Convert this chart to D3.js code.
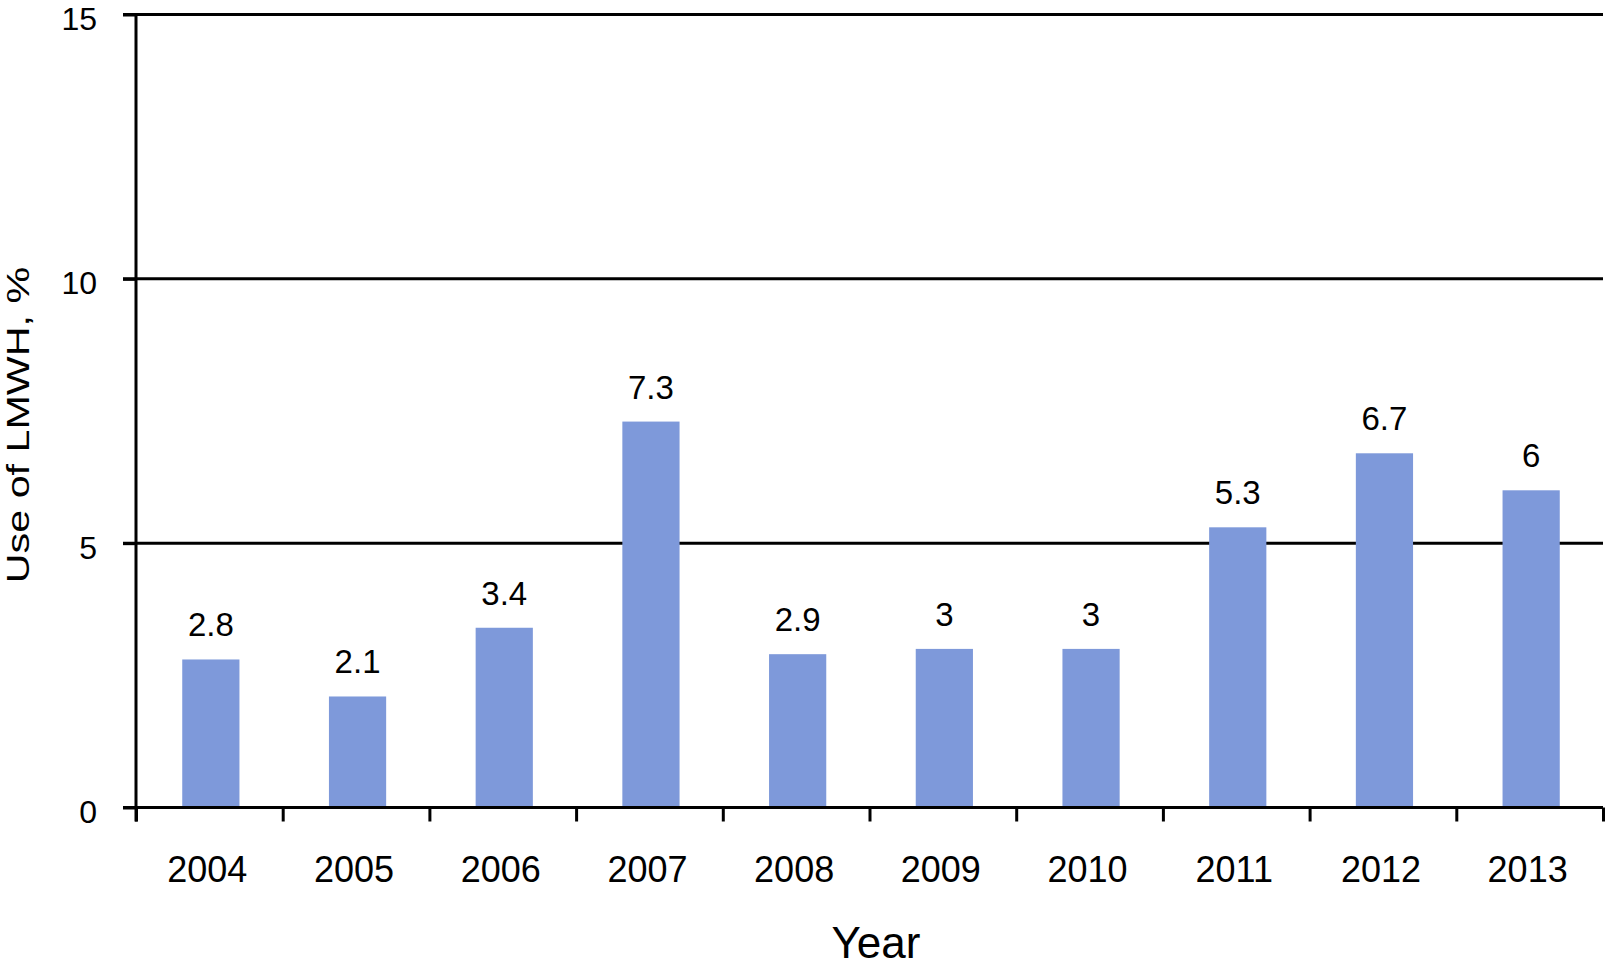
<!DOCTYPE html>
<html>
<head>
<meta charset="utf-8">
<script src="https://cdn.jsdelivr.net/npm/d3@7"></script>
<style>
  html, body { margin: 0; padding: 0; background: #fff; }
  svg text { font-family: "Liberation Sans", Arial, Helvetica, sans-serif; fill: #000; }
</style>
</head>
<body>
<svg id="chart" width="1605" height="978"></svg>
<script>
const years = ["2004","2005","2006","2007","2008","2009","2010","2011","2012","2013"];
const values = [2.8, 2.1, 3.4, 7.3, 2.9, 3, 3, 5.3, 6.7, 6];
const yTicks = [0, 5, 10, 15];
const xTitle = "Year";
const yTitle = "Use of LMWH, %";

(function () {
const svg = d3.select("#chart");
const pLeft = 136, pRight = 1603, pTop = 14.5, pBottom = 807.5;
const barColor = "#7e99da";

const x = d3.scaleBand().domain(years).range([pLeft, pRight]).paddingInner(0.61).paddingOuter(0.305);
const xb = d3.scaleLinear().domain([0, years.length]).range([pLeft, pRight]);
const y = d3.scaleLinear().domain([0, 15]).range([pBottom, pTop]);

// gridlines
svg.append("g").selectAll("line").data(yTicks.filter(d => d > 0)).join("line")
  .attr("x1", pLeft - 13).attr("x2", pRight)
  .attr("y1", d => y(d)).attr("y2", d => y(d))
  .attr("stroke", "#000").attr("stroke-width", 3);

// bars
svg.append("g").selectAll("rect").data(values).join("rect")
  .attr("x", (d, i) => x(years[i]) + 1.5)
  .attr("width", x.bandwidth())
  .attr("y", d => y(d))
  .attr("height", d => y(0) - y(d))
  .attr("fill", barColor);

// value labels
svg.append("g").selectAll("text").data(values).join("text")
  .attr("x", (d, i) => x(years[i]) + x.bandwidth() / 2 + 1.5)
  .attr("y", d => y(d) - 23)
  .attr("text-anchor", "middle")
  .attr("font-size", 33)
  .text(d => d);

// y axis
const yAxis = svg.append("g").attr("transform", `translate(${pLeft},0)`)
  .call(d3.axisLeft(y).tickValues(yTicks).tickSize(13).tickSizeOuter(0).tickPadding(26));
yAxis.attr("font-size", 32).attr("font-family", '"Liberation Sans", Arial, sans-serif');
yAxis.select(".domain").attr("stroke-width", 3).attr("d", `M0,${pTop}V${pBottom + 14}`);
yAxis.selectAll(".tick line").attr("stroke-width", 3);
yAxis.selectAll(".tick text").attr("font-size", 32).attr("dy", "0.47em");

// x axis boundary ticks
const xAxisB = svg.append("g").attr("transform", `translate(0,${pBottom})`)
  .call(d3.axisBottom(xb).tickValues(d3.range(0, years.length + 1)).tickSize(14).tickSizeOuter(0).tickFormat(""));
xAxisB.select(".domain").attr("stroke-width", 3).attr("d", `M${pLeft - 13},0H${pRight}`);
xAxisB.selectAll(".tick line").attr("stroke-width", 3);

// x labels
const xAxis = svg.append("g").attr("transform", `translate(0,${pBottom})`)
  .call(d3.axisBottom(x).tickSize(0).tickPadding(0));
xAxis.attr("font-size", 36).attr("font-family", '"Liberation Sans", Arial, sans-serif');
xAxis.select(".domain").remove();
xAxis.selectAll(".tick text").attr("font-size", 36).attr("dy", null).attr("y", 74)
  .attr("dx", -2);

// titles
svg.append("text")
  .attr("x", 876).attr("y", 958)
  .attr("text-anchor", "middle")
  .attr("font-size", 44)
  .text(xTitle);

svg.append("text")
  .attr("transform", "translate(29,425) rotate(-90) scale(1.29,1)")
  .attr("text-anchor", "middle")
  .attr("font-size", 32)
  .text(yTitle);
})();
</script>
</body>
</html>
